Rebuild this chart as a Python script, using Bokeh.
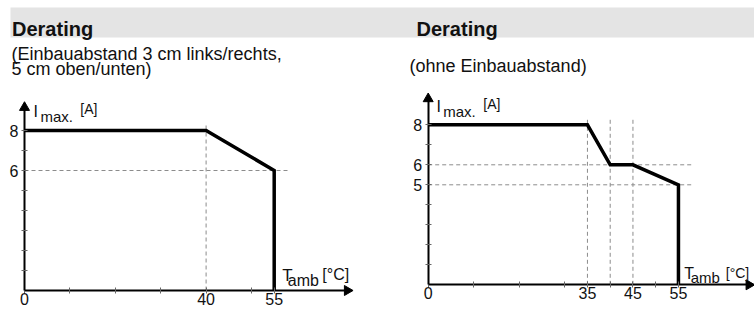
import math
from bokeh.plotting import figure
from bokeh.models import Range1d, LinearAxis, FixedTicker
from bokeh.embed import file_html
from bokeh.resources import INLINE
from bokeh.core.properties import value

# ---------------- data ----------------
title_text = "Derating"
left_subtitle = ["(Einbauabstand 3 cm links/rechts,", "5 cm oben/unten)"]
right_subtitle = ["(ohne Einbauabstand)"]

left_temp = [0, 40, 55, 55]
left_imax = [8, 8, 6, 0]
right_temp = [0, 35, 40, 45, 55, 55]
right_imax = [8, 8, 6, 6, 5, 0]

left_xticks = [0, 10, 20, 30, 40, 50, 55]
left_xlabels = {0: "0", 40: "40", 55: "55"}
left_yticks = [1, 2, 3, 4, 5, 6, 7, 8]
left_ylabels = {6: "6", 8: "8"}
right_xticks = [0, 10, 20, 30, 35, 40, 45, 50, 55]
right_xlabels = {0: "0", 35: "35", 45: "45", 55: "55"}
right_yticks = [1, 2, 3, 4, 5, 6, 7, 8]
right_ylabels = {5: "5", 6: "6", 8: "8"}

left_guide_x = [40]
left_guide_y = [6]
right_guide_x = [35, 40, 45]
right_guide_y = [6, 5]

FONT = value("Liberation Sans")
W, H = 754, 309

p = figure(width=W, height=H, x_range=Range1d(0, W), y_range=Range1d(H, 0),
           x_axis_type=None, y_axis_type=None, min_border=0,
           toolbar_location=None, output_backend="svg", outline_line_color=None)
p.extra_x_ranges = {"xl": Range1d(-24 / 4.54, (W - 24) / 4.54),
                    "xr": Range1d(-427.7 / 4.55, (W - 427.7) / 4.55)}
p.extra_y_ranges = {"yl": Range1d(-(H - 290) / 20, 290 / 20),
                    "yr": Range1d(-(H - 284.3) / 20, 284.3 / 20)}

# header band
p.quad(left=10, right=W, top=7, bottom=37, fill_color="#e4e4e4", line_color=None)
p.text(x=[11.5, 416], y=[28.3, 28.3], text=[title_text, title_text], text_font=FONT,
       text_font_style="bold", text_font_size="20px", text_color="#111111",
       text_baseline="alphabetic")
p.text(x=[11, 11], y=[53.3, 68.3], text=left_subtitle, text_font=FONT,
       text_font_size="18px", text_color="#111111", text_baseline="alphabetic")
p.text(x=[409], y=[65.7], text=right_subtitle, text_font=FONT,
       text_font_size="18px", text_color="#111111", text_baseline="alphabetic")


def chart(xr, yr, temp, imax, gx, gy, xticks, xlabels, yticks, ylabels, xtip, ytip,
          guide_top, guide_right, ylab, xlab):
    kw = dict(x_range_name=xr, y_range_name=yr)
    # guides
    p.segment(x0=gx, y0=[0] * len(gx), x1=gx, y1=[guide_top] * len(gx),
              line_color="#8c8c8c", line_width=1, line_dash="4 3", **kw)
    p.segment(x0=[0] * len(gy), y0=gy, x1=[guide_right] * len(gy), y1=gy,
              line_color="#8c8c8c", line_width=1, line_dash="4 3", **kw)
    # curve
    p.line(temp, imax, line_color="black", line_width=3.5, line_join="miter", **kw)

    common = dict(x_range_name=xr, y_range_name=yr, fixed_location=0,
                  minor_tick_line_color=None, major_label_text_font="Liberation Sans",
                  major_label_text_font_size="16px", major_label_text_color="#111111")
    # tick axes
    ax = LinearAxis(ticker=FixedTicker(ticks=xticks), bounds=(0, xtip - 1.5),
                    axis_line_width=2, axis_line_color="black",
                    major_tick_in=3, major_tick_out=3, major_tick_line_color="#666666",
                    major_label_text_alpha=0, **common)
    ay = LinearAxis(ticker=FixedTicker(ticks=yticks), bounds=(0, ytip - 0.3),
                    axis_line_width=2, axis_line_color="black",
                    major_tick_in=3, major_tick_out=3, major_tick_line_color="#666666",
                    major_label_text_alpha=0, **common)
    p.add_layout(ax, "below")
    p.add_layout(ay, "left")
    # label axes
    axl = LinearAxis(ticker=FixedTicker(ticks=list(xlabels)), major_label_overrides=xlabels,
                     axis_line_color=None, major_tick_line_color=None,
                     major_tick_in=0, major_tick_out=2, major_label_standoff=0, **common)
    ayl = LinearAxis(ticker=FixedTicker(ticks=list(ylabels)), major_label_overrides=ylabels,
                     axis_line_color=None, major_tick_line_color=None,
                     major_tick_in=0, major_tick_out=3, major_label_standoff=3, **common)
    p.add_layout(axl, "below")
    p.add_layout(ayl, "left")
    # arrow heads
    p.scatter(x=[xtip - 1.1], y=[0], marker="triangle", size=10, angle=-math.pi / 2,
              fill_color="black", line_color="black", **kw)
    p.scatter(x=[0], y=[ytip - 0.25], marker="triangle", size=10,
              fill_color="black", line_color="black", **kw)
    # axis titles
    for (x, y, t, fs) in ylab + xlab:
        p.text(x=[x], y=[y], text=[t], text_font=FONT, text_font_size=fs,
               text_color="#111111", text_baseline="alphabetic", **kw)


chart("xl", "yl", left_temp, left_imax, left_guide_x, left_guide_y,
      left_xticks, left_xlabels, left_yticks, left_ylabels, 72.2, 9.4, 8.36, 58.1,
      [(2.0, 8.95, "I", "16px"), (3.5, 8.7, "max.", "15px"), (12.3, 9.1, "[A]", "14px")],
      [(56.8, 0.75, "T", "17px"), (58.0, 0.5, "amb", "16px"), (65.6, 0.78, "[°C]", "16px")])

chart("xr", "yr", right_temp, right_imax, right_guide_x, right_guide_y,
      right_xticks, right_xlabels, right_yticks, right_ylabels, 71.6, 9.55, 8.38, 58.4,
      [(1.8, 8.9, "I", "16px"), (3.3, 8.65, "max.", "15px"), (12.1, 9.05, "[A]", "14px")],
      [(56.3, 0.55, "T", "16px"), (57.7, 0.35, "amb", "15px"), (65.4, 0.58, "[°C]", "14px")])

open("out.html", "w").write(file_html(p, INLINE))
